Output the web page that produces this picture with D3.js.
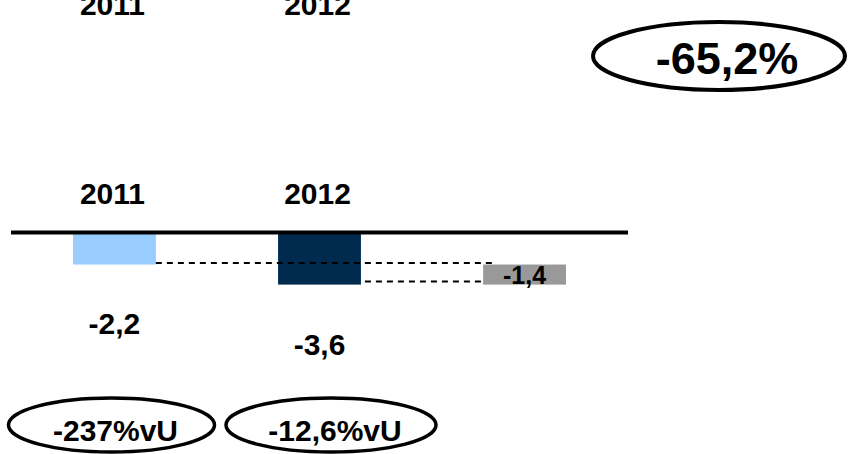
<!DOCTYPE html>
<html>
<head>
<meta charset="utf-8">
<script src="https://cdn.jsdelivr.net/npm/d3@7"></script>
<style>
  html, body { margin: 0; padding: 0; background: #fff; }
  svg { display: block; }
  text { font-family: "Liberation Sans", Arial, sans-serif; font-weight: bold; fill: #000; }
</style>
</head>
<body>
<svg id="chart" width="856" height="454"></svg>
<script>
// ---- data ----
const years = ["2011", "2012"];
const values = [-2.2, -3.6];
const deltaValue = -1.4;
const yoyLabels = ["-237%vU", "-12,6%vU"];
const totalChangeLabel = "-65,2%";
const categories = ["2011", "2012", "delta"];
const barColors = ["#99ccff", "#002b4f", "#999999"];

// ---- setup ----
const svg = d3.select("#chart");
const locale = d3.formatLocale({ decimal: ",", thousands: ".", grouping: [3], currency: ["", "€"], minus: "-" });
const fmt = locale.format(".1f");

const x = d3.scaleBand().domain(categories).range([73, 566]).paddingInner(0.596).paddingOuter(0);
const y = d3.scaleLinear().domain([-3.6, 0]).range([284.6, 233]);
const cx = c => x(c) + x.bandwidth() / 2;

// top (cropped) year labels
svg.selectAll("text.topyear").data(years).join("text")
  .attr("class", "topyear")
  .attr("x", d => cx(d) - 2).attr("y", 15)
  .attr("text-anchor", "middle").attr("font-size", 30)
  .text(d => d);

// total change ellipse
svg.append("ellipse")
  .attr("cx", 719).attr("cy", 56).attr("rx", 126).attr("ry", 34)
  .attr("fill", "none").attr("stroke", "#000").attr("stroke-width", 4);
svg.append("text")
  .attr("x", 727).attr("y", 74)
  .attr("text-anchor", "middle").attr("font-size", 45)
  .text(totalChangeLabel);

// middle year labels
svg.selectAll("text.year").data(years).join("text")
  .attr("class", "year")
  .attr("x", d => cx(d) - 2).attr("y", 204)
  .attr("text-anchor", "middle").attr("font-size", 30)
  .text(d => d);

// bars
const bars = [
  { cat: years[0], y0: 0, y1: values[0] },
  { cat: years[1], y0: 0, y1: values[1] },
  { cat: "delta", y0: values[0], y1: values[0] + deltaValue }
];
svg.selectAll("rect.bar").data(bars).join("rect")
  .attr("class", "bar")
  .attr("x", d => x(d.cat))
  .attr("width", x.bandwidth())
  .attr("y", d => y(Math.max(d.y0, d.y1)))
  .attr("height", d => Math.abs(y(d.y1) - y(d.y0)))
  .attr("fill", (d, i) => barColors[i]);

// connector dashed lines
svg.append("line")
  .attr("x1", x(years[0]) + x.bandwidth()).attr("x2", x("delta") + 11)
  .attr("y1", y(values[0]) - 1.5).attr("y2", y(values[0]) - 1.5)
  .attr("stroke", "#000").attr("stroke-width", 2).attr("stroke-dasharray", "6,5");
svg.append("line")
  .attr("x1", x(years[1]) + x.bandwidth() + 4).attr("x2", x("delta"))
  .attr("y1", y(values[1]) - 3).attr("y2", y(values[1]) - 3)
  .attr("stroke", "#000").attr("stroke-width", 2).attr("stroke-dasharray", "6,5");

// zero axis line
svg.append("line")
  .attr("x1", 11).attr("x2", 628)
  .attr("y1", y(0) - 0.5).attr("y2", y(0) - 0.5)
  .attr("stroke", "#000").attr("stroke-width", 4);

// delta label inside grey box
svg.append("text")
  .attr("x", cx("delta")).attr("y", y(values[0] + deltaValue) - 1)
  .attr("text-anchor", "middle").attr("font-size", 25)
  .text(fmt(deltaValue));

// value labels
const labelY = [334, 355];
svg.selectAll("text.val").data(values).join("text")
  .attr("class", "val")
  .attr("x", (d, i) => cx(years[i])).attr("y", (d, i) => labelY[i])
  .attr("text-anchor", "middle").attr("font-size", 30)
  .text(d => fmt(d));

// year-over-year ellipses
const ellCx = [111.5, 331];
const ellRx = [103, 105];
svg.selectAll("ellipse.yoy").data(yoyLabels).join("ellipse")
  .attr("class", "yoy")
  .attr("cx", (d, i) => ellCx[i]).attr("cy", 425)
  .attr("rx", (d, i) => ellRx[i]).attr("ry", 27)
  .attr("fill", "none").attr("stroke", "#000").attr("stroke-width", 3.5);
svg.selectAll("text.yoy").data(yoyLabels).join("text")
  .attr("class", "yoy")
  .attr("x", (d, i) => ellCx[i] + 4).attr("y", 441)
  .attr("text-anchor", "middle").attr("font-size", 30)
  .text(d => d);
</script>
</body>
</html>
